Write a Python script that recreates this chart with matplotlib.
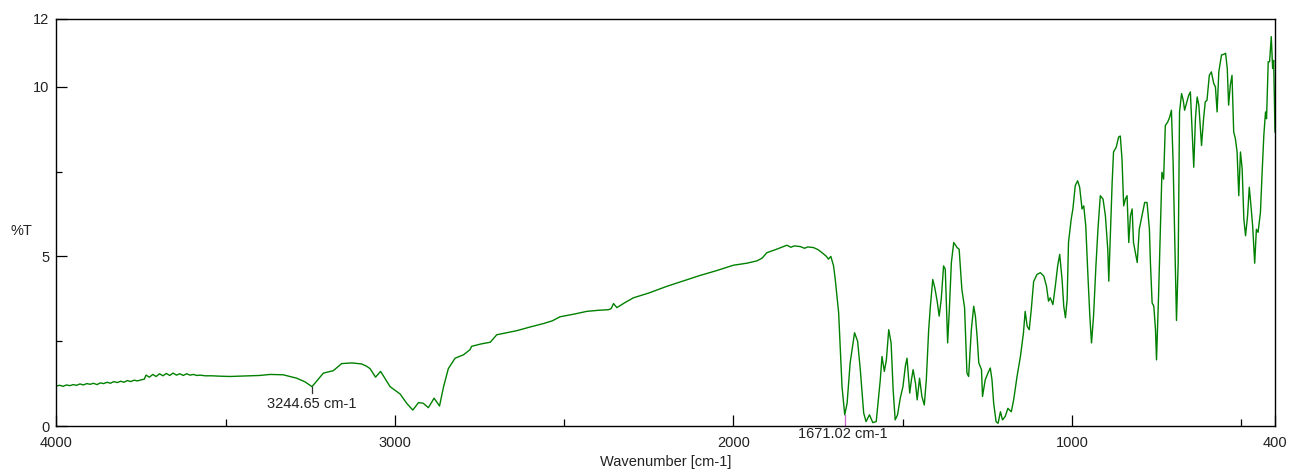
import matplotlib
matplotlib.use("Agg")
import matplotlib.pyplot as plt
import numpy as np

# IR spectrum: wavenumber (cm-1) and transmittance (%T)
wavenumber = [
    4000, 3990, 3980, 3970, 3960, 3950, 3940, 3930, 3920, 3910, 3900, 3890,
    3880, 3870, 3860, 3850, 3840, 3830, 3820, 3810, 3800, 3790, 3780, 3770,
    3760, 3750, 3740, 3735, 3725, 3715, 3705, 3695, 3685, 3675, 3665, 3655,
    3645, 3635, 3625, 3615, 3605, 3595, 3585, 3575, 3560, 3540, 3520, 3487,
    3460, 3428, 3400, 3368, 3330, 3290, 3265, 3244.65, 3211, 3182, 3157, 3127,
    3098, 3083, 3073, 3057, 3042, 3014, 2984, 2965, 2947, 2930, 2916, 2901,
    2884, 2868, 2856, 2842, 2822, 2797, 2778, 2773, 2745, 2718, 2699, 2670,
    2640, 2600, 2561, 2535, 2512, 2470, 2433, 2400, 2369, 2361, 2354, 2344,
    2320, 2295, 2250, 2196, 2150, 2098, 2050, 2000, 1960, 1930, 1915, 1901,
    1870, 1842, 1830, 1820, 1802, 1790, 1780, 1763, 1750, 1738, 1725, 1719,
    1712, 1704, 1699, 1689, 1679, 1671.02, 1664, 1655, 1642, 1633, 1625, 1615,
    1608, 1598, 1588, 1578, 1566, 1561, 1554, 1548, 1541, 1534, 1528, 1522,
    1515, 1507, 1499, 1492, 1487, 1479, 1474, 1469, 1462, 1457, 1450, 1443,
    1436, 1430, 1423, 1418, 1411, 1405, 1398, 1392, 1386, 1379, 1374, 1367,
    1362, 1356, 1349, 1339, 1333, 1325, 1317, 1310, 1305, 1297, 1290, 1285,
    1280, 1275, 1267, 1264, 1256, 1248, 1241, 1236, 1231, 1224, 1218, 1211,
    1205, 1197, 1189, 1179, 1172, 1162, 1152, 1143, 1138, 1132, 1126, 1120,
    1113, 1103, 1093, 1083, 1075, 1069, 1064, 1056, 1049, 1042, 1036, 1029,
    1024, 1019, 1014, 1010, 1002, 997, 990, 983, 977, 970, 965, 959,
    953, 947, 942, 936, 929, 923, 916, 908, 901, 894, 891, 886,
    881, 877, 869, 862, 857, 852, 847, 842, 837, 832, 827, 822,
    818, 807, 801, 793, 785, 778, 771, 768, 763, 758, 753, 750,
    744, 739, 734, 729, 724, 717, 711, 706, 701, 696, 691, 686,
    682, 676, 671, 667, 660, 655, 650, 645, 640, 635, 630, 625,
    617, 611, 606, 601, 594, 588, 581, 576, 571, 566, 558, 551,
    546, 541, 537, 532, 527, 522, 517, 512, 507, 502, 497, 492,
    487, 481, 476, 471, 466, 460, 455, 450, 443, 438, 433, 428,
    425, 420, 416, 411, 407, 404, 400,
]
transmittance = [
    1.18, 1.20, 1.17, 1.21, 1.19, 1.22, 1.20, 1.24, 1.21, 1.25, 1.23, 1.26,
    1.22, 1.27, 1.25, 1.29, 1.26, 1.31, 1.28, 1.32, 1.29, 1.34, 1.31, 1.35,
    1.33, 1.36, 1.38, 1.50, 1.44, 1.52, 1.46, 1.54, 1.48, 1.55, 1.49, 1.56,
    1.50, 1.54, 1.49, 1.54, 1.50, 1.52, 1.49, 1.50, 1.48, 1.48, 1.47, 1.46,
    1.47, 1.48, 1.49, 1.52, 1.51, 1.41, 1.30, 1.16, 1.56, 1.63, 1.84, 1.86,
    1.83, 1.76, 1.69, 1.44, 1.61, 1.16, 0.94, 0.67, 0.47, 0.69, 0.67, 0.54,
    0.82, 0.59, 1.16, 1.69, 2.00, 2.10, 2.25, 2.35, 2.42, 2.47, 2.69, 2.75,
    2.81, 2.92, 3.02, 3.10, 3.22, 3.30, 3.38, 3.41, 3.43, 3.46, 3.61, 3.49,
    3.64, 3.78, 3.92, 4.12, 4.27, 4.44, 4.58, 4.74, 4.80, 4.87, 4.95, 5.11,
    5.22, 5.33, 5.27, 5.31, 5.29, 5.24, 5.28, 5.26, 5.20, 5.11, 5.00, 4.92,
    5.00, 4.72, 4.32, 3.34, 1.16, 0.33, 0.67, 1.86, 2.75, 2.50, 1.66, 0.38,
    0.13, 0.33, 0.10, 0.13, 1.36, 2.05, 1.61, 1.95, 2.84, 2.45, 1.07, 0.18,
    0.33, 0.82, 1.16, 1.76, 2.00, 0.97, 1.36, 1.66, 1.26, 0.77, 1.41, 0.87,
    0.62, 1.36, 2.84, 3.53, 4.32, 4.08, 3.68, 3.24, 3.73, 4.72, 4.62, 2.45,
    3.43, 4.82, 5.41, 5.26, 5.21, 4.03, 3.49, 1.56, 1.46, 2.84, 3.53, 3.24,
    2.64, 1.86, 1.66, 0.87, 1.36, 1.56, 1.71, 1.36, 0.67, 0.13, 0.08, 0.42,
    0.18, 0.28, 0.52, 0.42, 0.77, 1.46, 2.05, 2.75, 3.38, 2.94, 2.84, 3.43,
    4.26, 4.47, 4.52, 4.42, 4.12, 3.68, 3.78, 3.58, 4.12, 4.72, 5.06, 4.32,
    3.53, 3.19, 3.73, 5.41, 6.10, 6.40, 7.09, 7.23, 7.04, 6.40, 6.49, 5.90,
    4.52, 3.24, 2.45, 3.24, 4.72, 5.80, 6.79, 6.69, 6.20, 5.21, 4.27, 5.71,
    7.19, 8.08, 8.22, 8.52, 8.55, 7.88, 6.49, 6.69, 6.79, 5.41, 6.20, 6.40,
    5.41, 4.82, 5.80, 6.20, 6.59, 6.59, 5.80, 4.82, 3.63, 3.53, 2.84, 1.95,
    3.83, 5.61, 7.48, 7.28, 8.86, 8.96, 9.11, 9.31, 7.78, 5.41, 3.11, 4.82,
    9.26, 9.80, 9.60, 9.31, 9.56, 9.75, 9.85, 8.77, 7.63, 9.06, 9.70, 9.46,
    8.27, 9.06, 9.56, 9.60, 10.34, 10.44, 10.10, 10.00, 9.26, 10.44, 10.94, 10.96,
    10.99, 10.54, 9.46, 10.05, 10.34, 8.67, 8.47, 8.08, 6.79, 8.08, 7.58, 6.10,
    5.61, 6.20, 7.04, 6.49, 5.90, 4.80, 5.80, 5.71, 6.30, 7.48, 8.57, 9.26,
    9.06, 10.74, 10.74, 11.48, 10.54, 10.78, 8.67,
]
peak_positions = [3244.65, 1671.02]
peak_labels = ["3244.65 cm-1", "1671.02 cm-1"]
x_major = [4000, 3000, 2000, 1000, 400]
x_minor = [3500, 2500, 1500, 500]
y_major = [0, 5, 10, 12]
y_minor = [2.5, 7.5]

W, H = 1289, 472
text_color = "#222222"
plt.rcParams["font.family"] = ["Liberation Sans", "DejaVu Sans"]

fig = plt.figure(figsize=(W / 100, H / 100), dpi=100)
ax = fig.add_axes([56.3 / W, 1 - 426 / H, (1275 - 56.3) / W, (426 - 19) / H])

ax.plot(wavenumber, transmittance, color="#008000", lw=1.0)

ax.set_xlim(4000, 400)
ax.set_ylim(0, 12)

ax.set_xticks(x_major)
ax.set_xticks(x_minor, minor=True)
ax.set_yticks(y_major)
ax.set_yticks(y_minor, minor=True)
ax.set_xticklabels([str(v) for v in x_major])
ax.set_yticklabels([str(v) for v in y_major])

ax.tick_params(axis="both", which="both", direction="in", colors="black",
               labelcolor=text_color, labelsize=10.5, width=0.9)
ax.tick_params(axis="x", which="major", length=8, pad=7)
ax.tick_params(axis="x", which="minor", length=5)
ax.tick_params(axis="y", which="major", length=8, pad=5)
ax.tick_params(axis="y", which="minor", length=4)
for s in ax.spines.values():
    s.set_linewidth(1.0)
    s.set_color("black")

# peak markers and labels
wn_inc = np.array(wavenumber[::-1], dtype=float)
t_inc = np.array(transmittance[::-1], dtype=float)
p1, p2 = peak_positions
t1 = np.interp(p1, wn_inc, t_inc)
t2 = np.interp(p2, wn_inc, t_inc)
ax.plot([p1, p1], [t1, t1 - 0.2], color="#333333", lw=0.9)
ax.text(p1, t1 - 0.5, peak_labels[0], ha="center", va="center",
        fontsize=10.5, color=text_color)
ax.plot([p2, p2], [t2, 0], color="#cc66cc", lw=0.9)
ax.text(p2 + 5, -0.24, peak_labels[1], ha="center", va="center",
        fontsize=10.5, color=text_color, clip_on=False)

fig.text(21 / W, 1 - 231 / H, "%T", ha="center", va="center",
         fontsize=10.5, color=text_color)
fig.text(666 / W, 1 - 462 / H, "Wavenumber [cm-1]", ha="center", va="center",
         fontsize=10.5, color=text_color)

fig.savefig("out.png", dpi=100)
